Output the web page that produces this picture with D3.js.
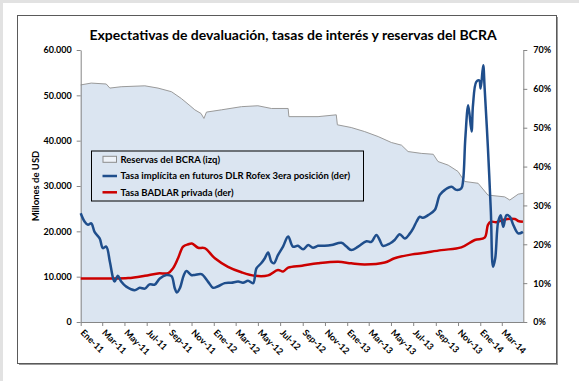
<!DOCTYPE html>
<html>
<head>
<meta charset="utf-8">
<script src="https://cdn.jsdelivr.net/npm/d3@7"></script>
<style>
  body { margin: 0; background: #fff; }
  svg text { font-family: Lato, "Open Sans", sans-serif; fill: #000; }
</style>
</head>
<body>
<svg id="chart" width="579" height="381"></svg>
<script>
// Reservas del BCRA (millones de USD, eje izquierdo)
var reservasFechas = ["2011-01-01","2011-01-30","2011-03-12","2011-03-22","2011-04-22","2011-06-26","2011-08-01","2011-09-07","2011-10-04","2011-10-28","2011-11-10","2011-11-27","2011-12-05","2011-12-12","2012-01-22","2012-03-17","2012-05-01","2012-06-07","2012-07-23","2012-07-25","2012-10-13","2012-12-02","2012-12-05","2013-01-12","2013-02-18","2013-03-27","2013-05-02","2013-05-30","2013-06-17","2013-07-23","2013-08-25","2013-09-07","2013-10-05","2013-11-01","2013-11-19","2013-12-26","2014-01-22","2014-03-09","2014-03-23","2014-04-15","2014-04-29"];
var reservasMillones = [52300,52700,52500,51600,51900,52100,51600,50800,49300,47700,46800,46000,44900,46300,46800,47500,47700,47100,47100,45300,45300,45700,43500,42900,42000,40900,39600,39000,37600,37200,37000,35400,34600,33200,31000,30600,28000,27600,26900,28200,28400];

// Tasa implícita en futuros DLR Rofex 3era posición (%, eje derecho)
var implicitaFechas = ["2011-01-01","2011-01-12","2011-01-21","2011-01-30","2011-02-08","2011-02-22","2011-03-03","2011-03-12","2011-03-22","2011-03-31","2011-04-04","2011-04-13","2011-04-22","2011-05-06","2011-05-29","2011-06-12","2011-06-26","2011-07-09","2011-07-23","2011-08-06","2011-08-24","2011-09-07","2011-09-16","2011-09-22","2011-09-30","2011-10-11","2011-10-18","2011-10-31","2011-11-10","2011-11-28","2011-12-16","2011-12-30","2012-01-13","2012-01-31","2012-02-18","2012-03-08","2012-03-21","2012-04-04","2012-04-18","2012-04-27","2012-05-10","2012-05-20","2012-05-29","2012-06-07","2012-06-14","2012-06-25","2012-07-09","2012-07-23","2012-08-05","2012-08-19","2012-09-02","2012-09-16","2012-09-29","2012-10-13","2012-10-31","2012-11-19","2012-12-16","2012-12-30","2013-01-12","2013-01-31","2013-02-23","2013-03-08","2013-03-22","2013-03-31","2013-04-09","2013-04-28","2013-05-11","2013-05-25","2013-06-08","2013-06-22","2013-07-01","2013-07-10","2013-07-19","2013-07-28","2013-08-11","2013-08-29","2013-09-12","2013-09-26","2013-10-14","2013-10-27","2013-11-10","2013-11-15","2013-11-21","2013-11-29","2013-12-08","2013-12-12","2013-12-21","2013-12-29","2014-01-02","2014-01-09","2014-01-13","2014-01-22","2014-01-30","2014-02-05","2014-02-11","2014-02-19","2014-02-26","2014-03-05","2014-03-14","2014-03-23","2014-04-01","2014-04-15","2014-04-28"];
var implicitaPct = [28.0,25.8,25.0,25.4,23.2,21.5,19.0,19.4,15.5,11.2,10.4,11.9,10.4,9.1,8.2,8.8,8.6,9.7,9.6,11.2,12.1,11.8,8.7,7.6,8.7,12.1,13.1,12.1,12.1,12.3,10.4,8.8,9.2,10.0,10.1,10.4,10.1,10.6,10.0,13.8,15.1,16.4,17.9,15.5,15.1,17.2,19.4,22.0,19.4,19.6,18.7,19.8,19.1,19.6,19.6,19.8,20.4,19.4,18.5,19.4,20.8,20.6,22.4,21.1,19.6,20.2,21.1,22.6,21.5,22.8,24.1,25.8,27.1,26.8,27.5,28.8,32.7,34.0,34.8,34.0,34.4,36.5,47.3,55.8,49.0,55.8,61.8,62.2,60.1,66.1,60.1,44.7,28.4,14.2,16.4,25.8,27.5,24.5,27.5,27.1,25.1,22.8,23.2];

// Tasa BADLAR privada (%, eje derecho)
var badlarFechas = ["2011-01-01","2011-03-26","2011-05-11","2011-06-26","2011-08-01","2011-08-29","2011-09-11","2011-09-25","2011-10-09","2011-10-23","2011-11-02","2011-11-19","2011-12-07","2012-01-04","2012-02-09","2012-03-17","2012-04-22","2012-05-29","2012-06-25","2012-07-09","2012-07-23","2012-08-30","2012-10-13","2012-12-07","2013-01-12","2013-02-18","2013-04-14","2013-05-11","2013-06-28","2013-07-23","2013-09-16","2013-11-10","2013-12-17","2014-01-13","2014-01-22","2014-01-30","2014-02-14","2014-03-09","2014-04-06","2014-04-15","2014-04-28"];
var badlarPct = [11.2,11.2,11.3,11.9,12.5,12.6,13.8,16.4,19.4,20.0,20.2,19.1,19.0,16.4,14.2,12.8,11.9,12.0,13.4,13.0,14.0,14.5,15.1,15.5,15.1,14.8,15.3,16.4,17.4,17.7,18.5,19.2,21.1,21.7,25.0,25.8,25.7,26.4,26.5,26.0,25.8];

var ticksIzq = [0, 10000, 20000, 30000, 40000, 50000, 60000];
var ticksDer = [0, 10, 20, 30, 40, 50, 60, 70];
var mesesEs = ["Ene","Feb","Mar","Abr","May","Jun","Jul","Ago","Sep","Oct","Nov","Dic"];

var titulo = "Expectativas de devaluación, tasas de interés y reservas del BCRA";
var leyenda = ["Reservas del BCRA (izq)", "Tasa implícita en futuros DLR Rofex 3era posición (der)", "Tasa BADLAR privada (der)"];

(function () {
	var parse = d3.timeParse("%Y-%m-%d");
	var zip = function (fechas, valores) {
		return fechas.map(function (f, i) { return { date: parse(f), value: valores[i] }; });
	};
	var reservas = zip(reservasFechas, reservasMillones);
	var implicita = zip(implicitaFechas, implicitaPct);
	var badlar = zip(badlarFechas, badlarPct);

	var svg = d3.select("#chart");

	// light strip on top and left edges of the picture
	svg.append("rect").attr("x", 0).attr("y", 0).attr("width", 579).attr("height", 3).attr("fill", "#e2e2e2");
	svg.append("rect").attr("x", 0).attr("y", 0).attr("width", 3).attr("height", 381).attr("fill", "#e2e2e2");

	// chart frame with a small shadow
	svg.append("rect").attr("x", 19).attr("y", 17).attr("width", 539).attr("height", 348).attr("fill", "#9a9a9a");
	svg.append("rect").attr("x", 17.5).attr("y", 15.5).attr("width", 539).attr("height", 348)
		.attr("fill", "#fff").attr("stroke", "#5a5a5a").attr("stroke-width", 1);

	var left = 80.7, right = 523.3, top = 50, bottom = 322;

	var x = d3.scaleTime()
		.domain([new Date(2011, 0, 1), new Date(2014, 3, 29)])
		.range([left, right]);
	var yL = d3.scaleLinear().domain([0, 60000]).range([bottom, top]);
	var yR = d3.scaleLinear().domain([0, 70]).range([bottom, top]);

	// reserves area
	var area = d3.area()
		.x(function (d) { return x(d.date); })
		.y0(bottom)
		.y1(function (d) { return yL(d.value); });
	var areaLine = d3.line()
		.x(function (d) { return x(d.date); })
		.y(function (d) { return yL(d.value); });

	svg.append("path").datum(reservas)
		.attr("d", area)
		.attr("fill", "#dbe5f1");
	svg.append("path").datum(reservas)
		.attr("d", areaLine)
		.attr("fill", "none")
		.attr("stroke", "#9a9a9a")
		.attr("stroke-width", 1);

	// axes
	var axisColor = "#868686";
	var styleAxis = function (g) {
		g.select(".domain").attr("stroke", axisColor);
		g.selectAll(".tick line").attr("stroke", axisColor);
		g.selectAll(".tick text")
			.style("font-family", "Lato, sans-serif")
			.style("font-weight", "bold")
			.style("font-size", "9px")
			.attr("fill", "#000");
	};

	var fmtMiles = function (d) { return d3.format(",")(d).replace(/,/g, "."); };

	svg.append("g")
		.attr("transform", "translate(" + left + ",0)")
		.call(d3.axisLeft(yL).tickValues(ticksIzq).tickFormat(fmtMiles).tickSize(4).tickSizeOuter(0).tickPadding(5))
		.call(styleAxis);

	svg.append("g")
		.attr("transform", "translate(" + right + ",0)")
		.call(d3.axisRight(yR).tickValues(ticksDer).tickFormat(function (d) { return d + "%"; }).tickSize(4).tickSizeOuter(0).tickPadding(6))
		.call(styleAxis);

	var monthTicks = d3.timeMonth.every(2).range(new Date(2011, 0, 1), new Date(2014, 3, 2));
	var xAxis = svg.append("g")
		.attr("transform", "translate(0," + bottom + ")")
		.call(d3.axisBottom(x).tickValues(monthTicks)
			.tickFormat(function (d) { return mesesEs[d.getMonth()] + "-" + d3.timeFormat("%y")(d); })
			.tickSize(4).tickSizeOuter(0))
		.call(styleAxis);
	xAxis.selectAll(".tick text")
		.attr("text-anchor", "start")
		.attr("x", 0).attr("y", 0).attr("dy", "0.35em")
		.attr("transform", "translate(1,9) rotate(45)");

	// y title
	svg.append("text")
		.attr("transform", "translate(36,186) rotate(-90)")
		.attr("text-anchor", "middle")
		.attr("dy", "0.35em")
		.style("font-size", "9.5px")
		.style("font-weight", "bold")
		.text("Millones de USD");

	// lines
	var lineR = d3.line()
		.curve(d3.curveCatmullRom.alpha(0.5))
		.x(function (d) { return x(d.date); })
		.y(function (d) { return yR(d.value); });

	svg.append("path").datum(badlar)
		.attr("d", lineR)
		.attr("fill", "none")
		.attr("stroke", "#cc0000")
		.attr("stroke-width", 2.5);
	svg.append("path").datum(implicita)
		.attr("d", lineR)
		.attr("fill", "none")
		.attr("stroke", "#1f4e8c")
		.attr("stroke-width", 2.5)
		.attr("stroke-linejoin", "round");

	// legend
	var lg = svg.append("g").attr("transform", "translate(91.5,151)");
	lg.append("rect").attr("width", 272).attr("height", 50)
		.attr("fill", "none").attr("stroke", "#000").attr("stroke-width", 1);
	var rows = [8.3, 25, 41.3];
	lg.append("rect").attr("x", 11.5).attr("y", rows[0] - 3).attr("width", 13.5).attr("height", 6)
		.attr("fill", "#eef2f8").attr("stroke", "#8c8c8c");
	lg.append("line").attr("x1", 11).attr("x2", 25.5).attr("y1", rows[1]).attr("y2", rows[1])
		.attr("stroke", "#1f4e8c").attr("stroke-width", 2.5);
	lg.append("line").attr("x1", 11).attr("x2", 25.5).attr("y1", rows[2]).attr("y2", rows[2])
		.attr("stroke", "#cc0000").attr("stroke-width", 2.5);
	lg.selectAll("text.item").data(leyenda).enter().append("text")
		.attr("class", "item")
		.attr("x", 29)
		.attr("y", function (d, i) { return rows[i]; })
		.attr("dy", "0.35em")
		.style("font-size", "9.5px")
		.style("font-weight", "bold")
		.text(function (d) { return d; });

	// title
	svg.append("text")
		.attr("x", 293).attr("y", 40)
		.attr("text-anchor", "middle")
		.style("font-size", "14px")
		.style("font-weight", "bold")
		.text(titulo);
})();
</script>
</body>
</html>
